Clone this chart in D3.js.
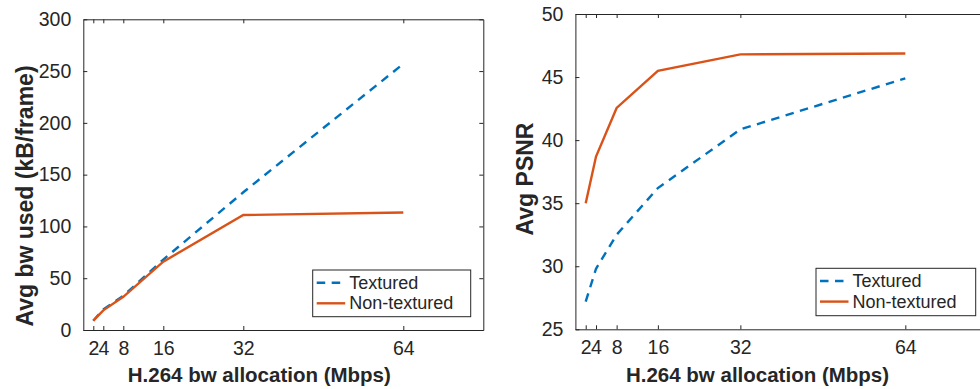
<!DOCTYPE html>
<html><head><meta charset="utf-8">
<script src="https://cdn.jsdelivr.net/npm/d3@7"></script>
<style>body{margin:0;background:#fff}svg{display:block}text{font-family:"Liberation Sans",Arial,Helvetica,sans-serif;fill:#262626}</style>
</head><body><svg id="c" width="980" height="389"></svg>
<script>
const bwAlloc = [2, 4, 8, 16, 32, 64];
const xTickLabels = ["2", "4", "8", "16", "32", "64"];
const bwTextured = [9, 20, 33, 68, 133, 257];
const bwNonTextured = [9, 19, 32, 66, 111, 113.5];
const psnrTextured = [27.2, 29.8, 32.5, 36.2, 40.85, 44.9];
const psnrNonTextured = [35.0, 38.7, 42.55, 45.5, 46.8, 46.87];
const bwTicks = [0, 50, 100, 150, 200, 250, 300];
const psnrTicks = [25, 30, 35, 40, 45, 50];
const seriesNames = ["Textured", "Non-textured"];

const svg = d3.select("#c");
const BLUE = "#0072BD", ORANGE = "#D95319", AX = "#262626";
const DASH = "8.5,6.5";

function panel(o) {
  const g = svg.append("g");
  const x = d3.scaleLinear().domain([0, 80]).range([o.x0, o.x1]);
  const y = d3.scaleLinear().domain(o.yDom).range([o.y0, o.y1]);
  const tl = 4;
  const xa = d3.axisBottom(x).tickValues(bwAlloc).tickFormat((d, i) => xTickLabels[i]).tickSizeInner(-tl).tickSizeOuter(0).tickPadding(11);
  const xt = d3.axisTop(x).tickValues(bwAlloc).tickFormat("").tickSizeInner(-tl).tickSizeOuter(0);
  const ya = d3.axisLeft(y).tickValues(o.yTicks).tickSizeInner(-tl).tickSizeOuter(0).tickPadding(12);
  const yr = d3.axisRight(y).tickValues(o.yTicks).tickFormat("").tickSizeInner(-tl).tickSizeOuter(0);
  const gx = g.append("g").attr("transform", `translate(0,${o.y0})`).call(xa);
  const gxt = g.append("g").attr("transform", `translate(0,${o.y1})`).call(xt);
  const gy = g.append("g").attr("transform", `translate(${o.x0},0)`).call(ya);
  const gyr = g.append("g").attr("transform", `translate(${o.x1},0)`).call(yr);
  [gx, gxt, gy, gyr].forEach(s => {
    s.selectAll("path").attr("stroke", AX).attr("stroke-width", 1);
    s.selectAll("line").attr("stroke", AX).attr("stroke-width", 1);
    s.selectAll("text").attr("font-size", 19.5).attr("fill", AX).style("font-family", "Liberation Sans, Arial, sans-serif");
  });
  const line = d3.line().x((d, i) => x(bwAlloc[i])).y(d => y(d));
  g.append("path").datum(o.s1).attr("d", line).attr("fill", "none").attr("stroke", BLUE).attr("stroke-width", 2.4).attr("stroke-dasharray", DASH);
  g.append("path").datum(o.s2).attr("d", line).attr("fill", "none").attr("stroke", ORANGE).attr("stroke-width", 2.4);
  g.append("text").attr("x", (x(2) + x(64)) / 2 + o.xlOff).attr("y", 381.5).attr("text-anchor", "middle").attr("font-weight", "bold").attr("font-size", 20.5).text("H.264 bw allocation (Mbps)");
  g.append("text").attr("transform", `translate(${o.ylx},${o.yly}) rotate(-90)`).attr("text-anchor", "middle").attr("font-weight", "bold").attr("font-size", 23).text(o.ylabel);
  const L = o.leg;
  g.append("rect").attr("x", L.x).attr("y", L.y).attr("width", L.w).attr("height", L.h).attr("fill", "#fff").attr("stroke", AX).attr("stroke-width", 1);
  [[BLUE, DASH], [ORANGE, null]].forEach((c, i) => {
    const yy = L.y + 12.7 + i * 20.6;
    g.append("line").attr("x1", L.x + 4).attr("x2", L.x + 32.5).attr("y1", yy).attr("y2", yy).attr("stroke", c[0]).attr("stroke-width", 2.4).attr("stroke-dasharray", c[1]);
    g.append("text").attr("x", L.x + 36.5).attr("y", yy + 6).attr("font-size", 18).text(seriesNames[i]);
  });
}

panel({x0: 83.3, x1: 483.3, y0: 330, y1: 19.3, yDom: [0, 300], yTicks: bwTicks,
  s1: bwTextured, s2: bwNonTextured, ylabel: "Avg bw used (kB/frame)", ylx: 33, yly: 196, xlOff: 11,
  leg: {x: 312.7, y: 270, w: 158, h: 46.7}});
panel({x0: 575.4, x1: 987.8, y0: 329.3, y1: 14, yDom: [25, 50], yTicks: psnrTicks,
  s1: psnrTextured, s2: psnrNonTextured, ylabel: "Avg PSNR", ylx: 533, yly: 179, xlOff: 12,
  leg: {x: 816, y: 268.3, w: 159.7, h: 47.4}});
</script></body></html>
